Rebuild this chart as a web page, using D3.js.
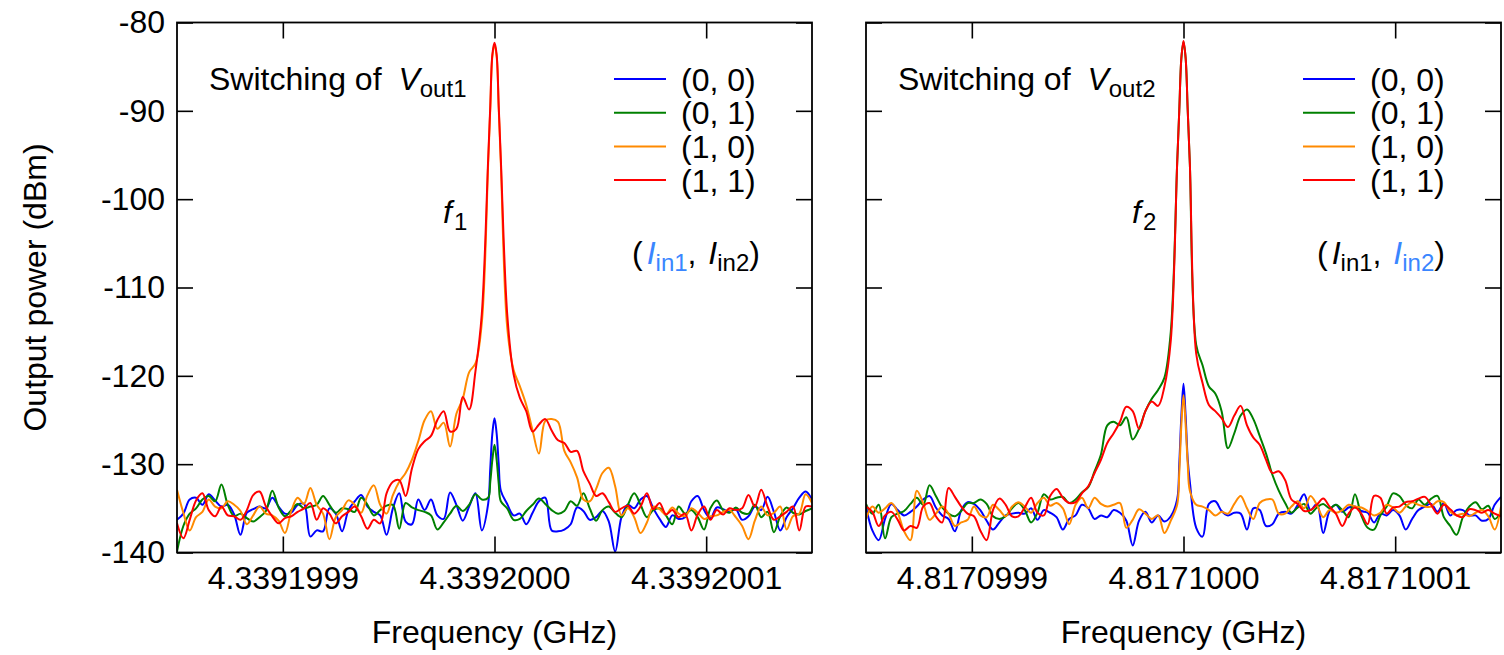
<!DOCTYPE html>
<html><head><meta charset="utf-8">
<script src="https://cdn.jsdelivr.net/npm/d3@7"></script>
<style>
body{margin:0;background:#fff;}
text{font-family:"Liberation Sans",Arial,Helvetica,sans-serif;fill:#000;}
</style>
</head><body>
<svg id="chart" width="1504" height="655"></svg>
<script>
// ---------------- data ----------------
const freqOffsetHz = [-150,-147,-144,-141,-138,-135,-132,-129,-126,-123,-120,-117,-114,-111,-108,-105,-102,-99,-96,-93,-90,-87,-84,-81,-78,-75,-72,-69,-66,-63,-60,-57,-54,-51,-48,-45,-42,-39,-36,-33,-30,-27,-24,-21,-18,-15,-12,-9,-6,-3,-2,-1,0,1,2,3,6,9,12,15,18,21,24,27,30,33,36,39,42,45,48,51,54,57,60,63,66,69,72,75,78,81,84,87,90,93,96,99,102,105,108,111,114,117,120,123,126,129,132,135,138,141,144,147,150];

const yTickValues = [-140,-130,-120,-110,-100,-90,-80];
const yTickLabels = ["-140","-130","-120","-110","-100","-90","-80"];
const xTickOffsetsHz = [-100, 0, 100];
const xTickLabelsVout1 = ["4.3391999","4.3392000","4.3392001"];
const xTickLabelsVout2 = ["4.8170999","4.8171000","4.8171001"];
const seriesLabels = ["(0, 0)","(0, 1)","(1, 0)","(1, 1)"];
const seriesColors = ["#0000ff","#008000","#ff8a00","#ff0000"];

// Switching of Vout1 (dBm)
const vout1_00 = [
-136.3,-135.6,-134.0,-133.8,-134.6,-133.4,-134.1,-134.8,-134.6,-135.7,
-138.0,-135.5,-135.1,-134.8,-135.0,-133.8,-134.8,-135.6,-135.5,-134.6,
-134.5,-138.2,-137.5,-137.6,-135.0,-135.6,-137.6,-135.2,-134.2,-133.5,
-134.8,-135.4,-135.8,-138.0,-135.0,-133.3,-136.5,-136.8,-134.0,-135.2,
-134.0,-135.8,-136.2,-133.2,-134.6,-136.4,-134.8,-133.3,-137.5,-134.5,
-130.5,-126.5,-124.8,-126.5,-130.0,
-133.0,-134.5,-135.8,-135.6,-136.8,-135.5,-134.2,-133.8,-137.5,-137.6,
-137.4,-136.8,-134.9,-135.3,-136.3,-136.0,-135.3,-136.5,-139.9,-136.0,
-134.6,-135.0,-134.0,-133.6,-135.0,-136.2,-137.1,-135.8,-136.2,-136.0,
-134.2,-133.6,-135.2,-136.1,-134.9,-135.1,-135.4,-135.1,-136.3,-135.9,
-134.8,-135.2,-133.7,-135.4,-137.5,-136.0,-135.0,-133.8,-133.1,-134.0];
const vout1_01 = [
-139.9,-137.0,-135.6,-135.0,-134.0,-133.6,-134.2,-132.3,-134.6,-135.9,
-135.6,-136.1,-136.5,-136.0,-135.3,-133.0,-134.9,-135.9,-135.2,-134.5,
-135.0,-134.8,-134.6,-133.6,-134.6,-135.5,-135.0,-135.1,-135.4,-133.8,
-134.6,-135.8,-135.2,-134.7,-134.6,-137.3,-134.4,-134.9,-135.2,-135.4,
-135.8,-137.4,-136.6,-135.6,-134.7,-135.3,-134.6,-133.4,-134.0,-133.8,
-132.0,-129.5,-127.8,-129.5,-132.2,
-134.2,-135.0,-136.3,-136.2,-135.3,-134.6,-133.9,-134.5,-135.2,-135.6,
-135.3,-134.2,-134.7,-133.3,-135.0,-136.4,-135.2,-134.8,-135.5,-136.0,
-134.6,-133.3,-134.6,-136.0,-135.2,-135.0,-135.8,-136.8,-134.8,-135.6,
-135.2,-136.0,-137.4,-135.0,-134.1,-135.2,-135.5,-134.9,-135.5,-135.6,
-134.6,-136.0,-135.4,-137.7,-135.9,-134.9,-135.5,-135.7,-135.3,-135.0];
const vout1_10 = [
-132.9,-135.5,-137.5,-136.0,-135.4,-134.0,-134.8,-135.0,-134.2,-134.6,
-135.3,-136.8,-135.8,-134.8,-135.6,-135.8,-136.4,-137.8,-135.3,-133.8,
-134.5,-132.7,-134.6,-135.6,-138.5,-136.0,-135.2,-134.1,-134.6,-135.5,
-133.5,-132.4,-134.6,-135.6,-133.5,-132.0,-131.0,-129.5,-127.4,-125.0,
-124.0,-126.0,-125.3,-128.0,-124.3,-122.6,-119.6,-118.6,-114.0,-96.0,
-89.8,-83.8,-82.5,-83.8,-89.8,
-96.0,-114.5,-119.3,-121.2,-123.3,-126.2,-128.8,-125.1,-124.9,-125.2,
-128.5,-129.8,-131.5,-134.0,-134.2,-132.8,-131.0,-130.4,-132.5,-135.8,
-135.0,-136.0,-137.8,-136.6,-134.8,-135.1,-135.7,-134.9,-135.6,-135.9,
-135.0,-135.5,-136.2,-135.9,-135.8,-135.4,-135.2,-136.0,-137.0,-138.5,
-136.4,-134.8,-135.8,-135.5,-134.8,-137.4,-135.9,-135.6,-133.4,-134.4];
const vout1_11 = [
-136.7,-138.4,-136.3,-134.1,-133.3,-135.2,-135.9,-134.8,-135.8,-135.9,
-136.3,-135.2,-133.5,-133.1,-134.8,-135.9,-136.7,-136.1,-135.9,-135.4,
-135.0,-134.4,-136.3,-135.0,-135.6,-136.7,-135.9,-135.4,-134.8,-135.9,
-137.3,-136.3,-136.7,-133.3,-132.0,-131.8,-133.6,-130.5,-128.3,-127.4,
-126.8,-125.0,-124.0,-126.3,-126.0,-122.4,-123.8,-119.5,-113.0,-95.5,
-89.5,-83.6,-82.3,-83.6,-89.5,
-95.5,-113.0,-119.8,-122.5,-124.0,-126.3,-125.5,-124.9,-126.2,-127.3,
-127.6,-128.6,-128.5,-130.8,-132.2,-133.6,-133.3,-134.3,-135.4,-135.0,
-134.7,-135.6,-134.8,-133.3,-135.1,-134.4,-135.7,-135.2,-136.0,-135.6,
-137.5,-135.7,-134.8,-136.3,-135.2,-135.7,-135.0,-135.2,-135.0,-133.5,
-134.8,-132.9,-134.8,-136.3,-135.9,-135.4,-134.8,-137.5,-134.8,-134.8];

// Switching of Vout2 (dBm)
const vout2_00 = [
-134.8,-137.5,-138.6,-136.2,-134.5,-135.2,-135.8,-135.4,-134.8,-134.0,
-133.6,-134.9,-135.8,-136.2,-137.6,-135.2,-134.3,-134.5,-135.2,-136.4,
-137.4,-136.6,-135.8,-135.6,-135.5,-135.6,-135.0,-136.3,-135.2,-135.5,
-136.0,-137.4,-136.2,-135.8,-134.6,-135.0,-136.2,-135.8,-136.0,-135.2,
-135.5,-136.4,-139.2,-136.4,-135.4,-136.6,-135.8,-136.5,-135.9,-134.0,
-130.0,-124.5,-120.9,-124.5,-129.5,
-132.0,-137.2,-138.2,-134.5,-134.2,-135.3,-135.8,-135.5,-135.6,-137.4,
-135.0,-135.2,-137.0,-136.8,-135.6,-135.4,-135.6,-134.6,-133.4,-135.2,
-134.5,-137.8,-135.3,-134.6,-135.4,-134.9,-134.8,-135.3,-135.5,-136.6,
-135.6,-135.8,-135.2,-135.8,-137.4,-136.2,-135.2,-134.8,-134.5,-135.4,
-134.4,-135.8,-135.2,-135.2,-135.8,-135.8,-136.4,-136.2,-134.6,-133.7];
const vout2_01 = [
-134.5,-135.6,-134.6,-138.4,-136.0,-135.6,-135.3,-134.5,-133.8,-134.6,
-132.4,-133.6,-134.9,-135.6,-135.9,-135.3,-134.4,-134.4,-134.0,-134.5,
-135.9,-136.2,-135.9,-135.0,-134.4,-135.2,-136.6,-135.5,-133.4,-134.0,
-133.8,-133.7,-134.4,-134.0,-133.2,-132.6,-130.8,-128.9,-125.6,-125.2,
-125.6,-124.7,-127.2,-126.0,-124.0,-122.6,-121.6,-120.2,-115.0,-96.0,
-90.0,-84.0,-82.2,-84.0,-90.0,
-96.0,-116.5,-118.8,-121.2,-122.0,-124.0,-128.2,-126.5,-124.5,-123.8,
-124.9,-126.8,-128.8,-131.2,-133.0,-134.4,-135.5,-134.9,-134.5,-135.6,
-134.9,-134.5,-135.0,-134.6,-135.2,-136.0,-133.4,-135.8,-137.2,-137.4,
-135.8,-134.8,-133.3,-133.6,-134.6,-135.0,-134.0,-134.6,-133.9,-133.6,
-136.0,-137.0,-138.0,-136.0,-134.8,-134.3,-135.1,-134.7,-136.2,-135.5];
const vout2_10 = [
-136.2,-134.8,-135.5,-135.0,-134.4,-135.5,-137.6,-138.6,-133.0,-134.4,
-136.3,-135.6,-134.8,-135.6,-137.0,-136.6,-136.3,-134.8,-135.8,-136.0,
-134.6,-135.2,-135.9,-134.8,-134.3,-134.8,-135.5,-134.4,-133.8,-134.7,
-134.4,-135.0,-136.8,-134.6,-133.8,-135.0,-133.8,-134.5,-134.8,-134.6,
-134.4,-137.2,-136.3,-135.1,-135.6,-136.2,-135.8,-137.8,-136.4,-134.6,
-131.0,-125.5,-122.2,-125.5,-130.0,
-133.0,-134.6,-134.8,-135.2,-135.8,-135.4,-135.6,-134.5,-133.6,-135.0,
-136.2,-134.4,-134.0,-134.0,-135.6,-135.6,-134.8,-134.2,-135.0,-133.6,
-134.6,-136.0,-135.2,-135.5,-135.2,-134.6,-134.8,-134.9,-135.3,-135.8,
-135.5,-134.6,-134.9,-135.5,-134.8,-134.3,-134.6,-134.8,-134.8,-134.2,
-134.3,-135.4,-135.8,-135.6,-135.9,-135.5,-135.2,-135.9,-137.4,-134.8];
const vout2_11 = [
-134.8,-135.4,-137.0,-135.8,-135.4,-136.3,-137.5,-137.0,-137.2,-134.8,
-134.4,-135.9,-136.6,-132.7,-133.7,-134.8,-135.6,-135.9,-137.5,-138.6,
-135.2,-133.9,-134.6,-135.9,-135.9,-134.9,-133.8,-135.5,-135.8,-133.6,
-132.8,-133.8,-134.4,-134.3,-133.3,-132.5,-131.0,-129.5,-127.6,-126.5,
-125.2,-123.5,-124.0,-126.0,-124.0,-122.9,-123.4,-121.2,-116.0,-96.0,
-90.0,-84.0,-82.1,-84.0,-90.0,
-96.0,-117.5,-120.8,-123.3,-124.0,-124.8,-125.8,-124.5,-123.4,-125.6,
-127.0,-127.8,-129.5,-131.0,-130.8,-131.8,-134.0,-134.5,-135.3,-135.2,
-134.6,-133.9,-134.8,-135.6,-137.0,-135.6,-134.9,-135.6,-136.8,-133.6,
-133.8,-135.6,-134.9,-134.8,-134.3,-134.2,-133.9,-133.7,-134.6,-135.6,
-134.6,-135.1,-135.8,-136.0,-135.1,-135.2,-135.5,-135.2,-135.6,-135.9];

// ---------------- layout ----------------
const svg = d3.select("#chart");
const TOP = 22.5, W = 635, H = 530;
const FS = 32;

const panels = [
  {left:177, series:[vout1_00,vout1_01,vout1_10,vout1_11], ticks:xTickLabelsVout1, sub:"out1", f:"1", blueIdx:0, showY:true, id:"c1"},
  {left:866, series:[vout2_00,vout2_01,vout2_10,vout2_11], ticks:xTickLabelsVout2, sub:"out2", f:"2", blueIdx:1, showY:false, id:"c2"}
];

const x = d3.scaleLinear().domain([-150,150]).range([0,W]);
const y = d3.scaleLinear().domain([-140,-80]).range([H,0]);

panels.forEach(p => {
  const g = svg.append("g").attr("transform",`translate(${p.left},${TOP})`);
  g.append("clipPath").attr("id",p.id).append("rect").attr("width",W).attr("height",H);

  const line = d3.line()
    .x((d,i)=>x(freqOffsetHz[i]))
    .y(d=>y(d))
    .curve(d3.curveCatmullRom.alpha(0.5));

  const lg = g.append("g").attr("clip-path",`url(#${p.id})`);
  p.series.forEach((s,k)=>{
    lg.append("path").datum(s).attr("d",line)
      .attr("fill","none").attr("stroke",seriesColors[k])
      .attr("stroke-width",2).attr("stroke-linejoin","round");
  });

  // axes (inward ticks on all sides)
  const yl = d3.axisLeft(y).tickValues(yTickValues).tickSize(-16).tickSizeOuter(0).tickPadding(12)
    .tickFormat((d,i)=> p.showY ? yTickLabels[i] : "");
  const yr = d3.axisRight(y).tickValues(yTickValues).tickSize(-16).tickSizeOuter(0).tickFormat("");
  const xb = d3.axisBottom(x).tickValues(xTickOffsetsHz).tickSize(-16).tickSizeOuter(0).tickPadding(14)
    .tickFormat((d,i)=>p.ticks[i]);
  const xt = d3.axisTop(x).tickValues(xTickOffsetsHz).tickSize(-16).tickSizeOuter(0).tickFormat("");

  const axes = [
    g.append("g").call(yl),
    g.append("g").attr("transform",`translate(${W},0)`).call(yr),
    g.append("g").attr("transform",`translate(0,${H})`).call(xb),
    g.append("g").call(xt)
  ];
  axes.forEach(a=>{
    a.select(".domain").remove();
    a.selectAll(".tick line").attr("stroke","#000").attr("stroke-width",1.6);
    a.selectAll(".tick text").attr("font-size",FS).attr("fill","#000")
      .attr("font-family",'"Liberation Sans",Arial,Helvetica,sans-serif');
  });

  g.append("rect").attr("width",W).attr("height",H)
    .attr("fill","none").attr("stroke","#000").attr("stroke-width",1.8);

  // title annotation
  const t = g.append("text").attr("x",32).attr("y",67.5).attr("font-size",FS);
  t.append("tspan").text("Switching of ");
  t.append("tspan").attr("dx",8).attr("font-style","italic").text("V");
  t.append("tspan").attr("font-size",24).attr("dy",7).text(p.sub);

  // f label
  const ft = g.append("text").attr("x",266).attr("y",200.5).attr("font-size",FS);
  ft.append("tspan").attr("font-style","italic").text("f");
  ft.append("tspan").attr("font-size",24).attr("dy",7).attr("dx",2).text(p.f);

  // legend
  const lx = 437;
  seriesLabels.forEach((lab,k)=>{
    const yy = 56.5 + k*33.7;
    g.append("line").attr("x1",lx).attr("x2",lx+52).attr("y1",yy).attr("y2",yy)
      .attr("stroke",seriesColors[k]).attr("stroke-width",2);
    g.append("text").attr("x",lx+67).attr("y",yy).attr("dy","0.36em")
      .attr("font-size",FS).text(lab);
  });

  // (Iin1, Iin2)
  const blue = "#3a86ff";
  const it = g.append("text").attr("x", p.id==="c1"?455:451).attr("y",241.5).attr("font-size",FS);
  it.append("tspan").text("(");
  it.append("tspan").attr("font-style","italic").attr("fill",p.blueIdx===0?blue:"#000").attr("dx",4).text("I");
  it.append("tspan").attr("font-size",24).attr("dy",7).attr("fill",p.blueIdx===0?blue:"#000").text("in1");
  it.append("tspan").attr("dy",-7).text(", ");
  it.append("tspan").attr("font-style","italic").attr("fill",p.blueIdx===1?blue:"#000").attr("dx",3).text("I");
  it.append("tspan").attr("font-size",24).attr("dy",7).attr("fill",p.blueIdx===1?blue:"#000").text("in2");
  it.append("tspan").attr("dy",-7).text(")");

  // x-axis title
  svg.append("text").attr("x",p.left+W/2).attr("y",643).attr("text-anchor","middle")
    .attr("font-size",FS).text("Frequency (GHz)");
});

// y-axis title
svg.append("text").attr("transform",`translate(46,${TOP+H/2}) rotate(-90)`)
  .attr("text-anchor","middle").attr("font-size",FS).text("Output power (dBm)");
</script>
</body></html>
